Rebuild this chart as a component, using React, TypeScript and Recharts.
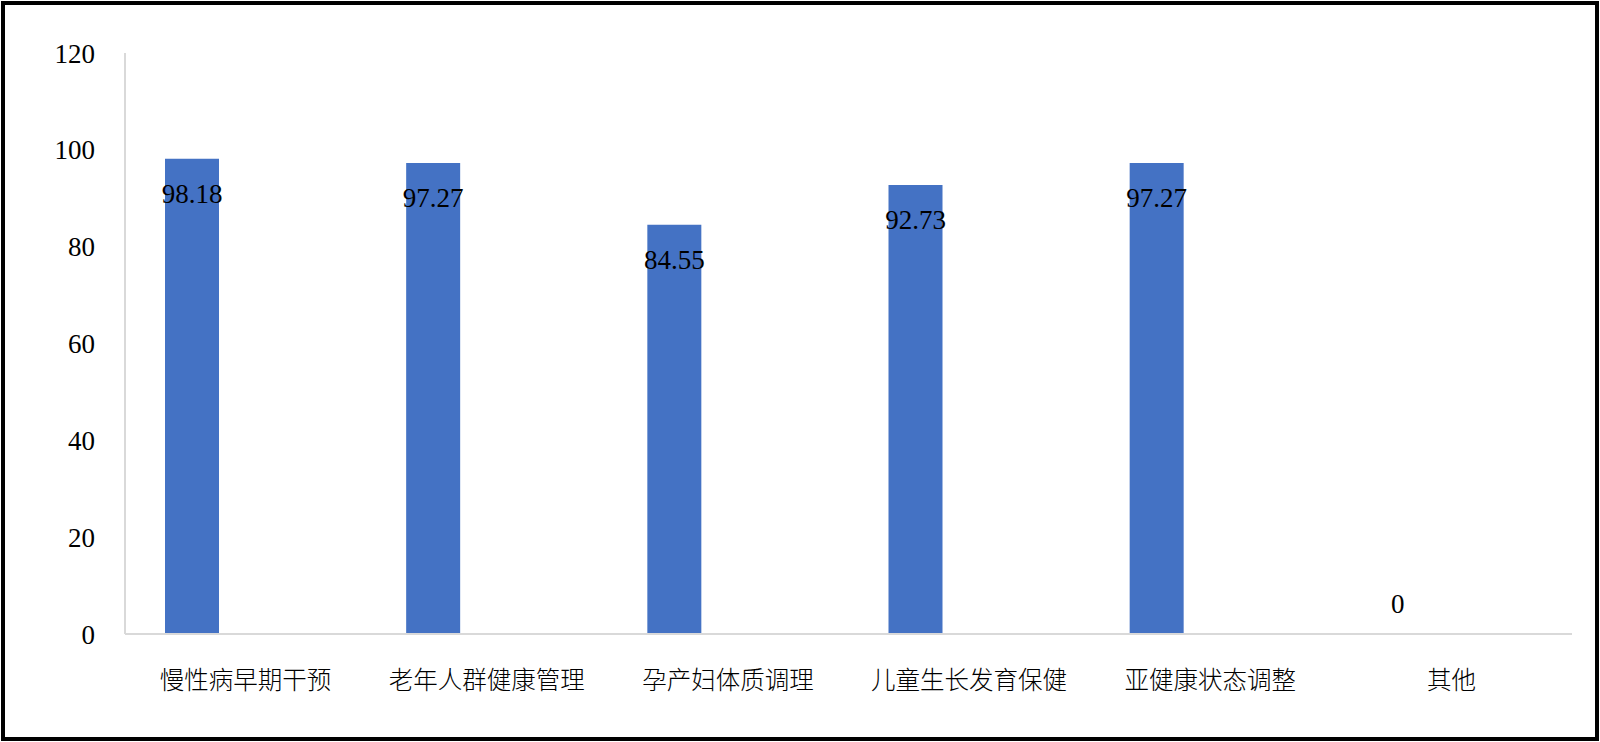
import { BarChart, Bar, XAxis, YAxis, LabelList, Cell } from 'recharts'

const categories = ['慢性病早期干预', '老年人群健康管理', '孕产妇体质调理', '儿童生长发育保健', '亚健康状态调整', '其他']
const seriesValues = [98.18, 97.27, 84.55, 92.73, 97.27, 0]
const yTicks = [0, 20, 40, 60, 80, 100, 120]

const data = categories.map((name, i) => ({ name, s1: seriesValues[i], s2: null, s3: null }))

const axisGrey = '#d9d9d9'
const barBlue = '#4472C4'
const serif = 'Liberation Serif, Times New Roman, serif'
const cjk = 'Noto Sans CJK SC, sans-serif'

function ValueLabel(props: any) {
  const { x, y, width, height, value } = props
  if (value == null) return null
  const cx = Number(x) + Number(width) / 2
  // zero bars get their label floated above the baseline, like Excel does
  const ty = Number(value) !== 0 ? Number(y) + 44 : Number(y) + Number(height) - 21
  return (
    <text x={cx} y={ty} textAnchor="middle" style={{ fontFamily: serif, fontSize: 27 }} fill="#000">
      {String(value)}
    </text>
  )
}

export default function App() {
  return (
    <div style={{ position: 'absolute', left: 0, top: 0, width: 1600, height: 742, background: '#fff' }}>
      <BarChart
        width={1600}
        height={742}
        data={data}
        margin={{ top: 53, right: 28, left: 0, bottom: 0 }}
        barCategoryGap={40}
        barGap={0}
      >
        <XAxis
          dataKey="name"
          height={108}
          axisLine={{ stroke: axisGrey, strokeWidth: 2 }}
          tickLine={false}
          tickSize={0}
          tickMargin={38}
          interval={0}
          tick={{ fontSize: 24.5, fill: '#000', fontFamily: cjk, fontWeight: 300 }}
        />
        <YAxis
          width={125}
          domain={[0, 120]}
          ticks={yTicks}
          axisLine={{ stroke: axisGrey, strokeWidth: 2 }}
          tickLine={false}
          tickSize={0}
          tickMargin={30}
          tick={{ fontSize: 27, fill: '#000', fontFamily: serif }}
        />
        <Bar
          dataKey="s1"
          fill={barBlue}
          minPointSize={(v: number) => (v === 0 ? 1 : 0)}
          isAnimationActive={false}
        >
          {seriesValues.map((v, i) => (
            <Cell key={i} fill={v === 0 ? 'transparent' : barBlue} />
          ))}
          <LabelList dataKey="s1" content={ValueLabel} />
        </Bar>
        <Bar dataKey="s2" fill="#ED7D31" isAnimationActive={false} />
        <Bar dataKey="s3" fill="#A5A5A5" isAnimationActive={false} />
      </BarChart>
      <div
        style={{
          position: 'absolute',
          left: 1,
          top: 1,
          width: 1598,
          height: 740,
          boxSizing: 'border-box',
          border: '4px solid #000',
          pointerEvents: 'none',
        }}
      />
    </div>
  )
}
